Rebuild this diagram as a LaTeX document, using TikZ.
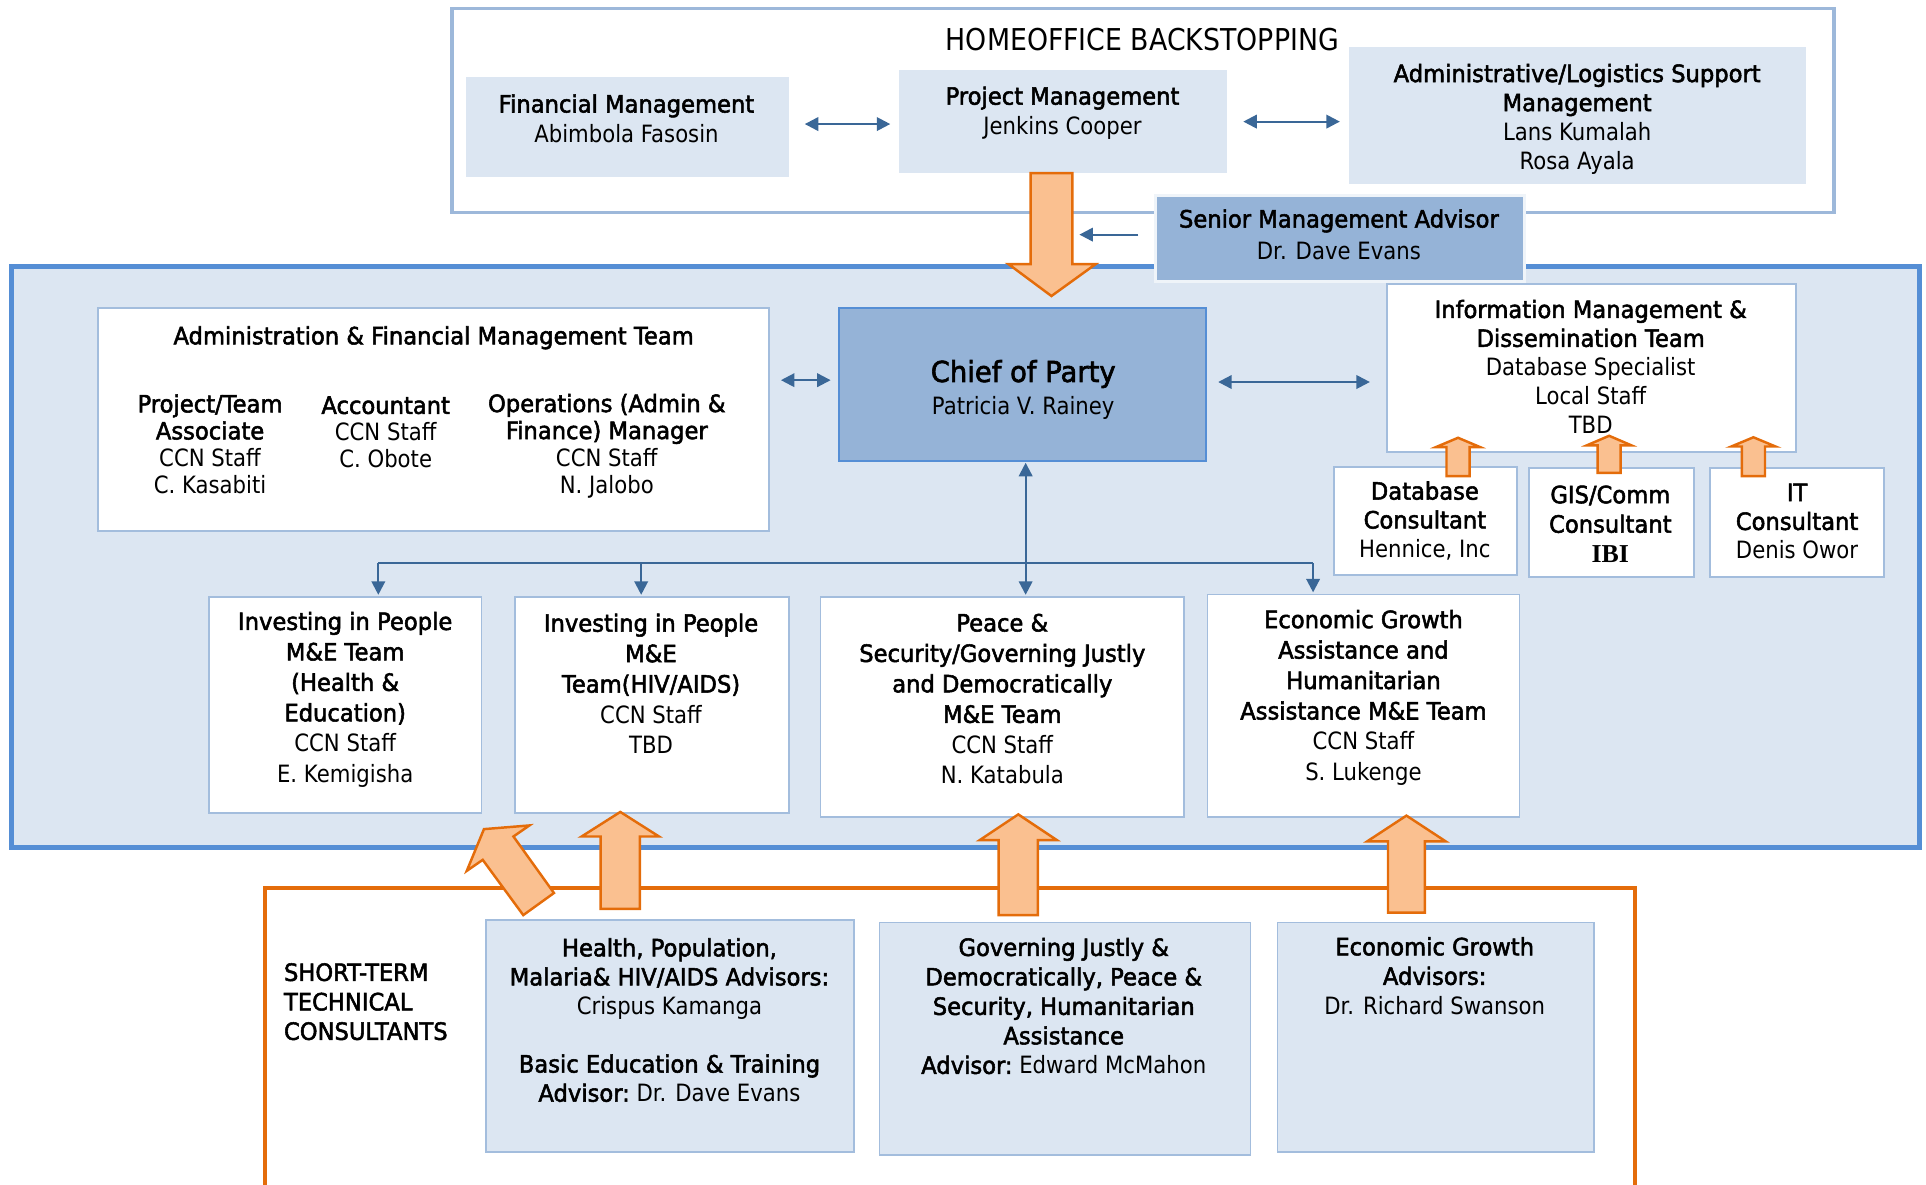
\documentclass[tikz,border=0pt]{standalone}
\usepackage{fontspec}
\setmainfont{DejaVu Sans}[FakeStretch=0.89]
\newfontfamily\tfont{DejaVu Sans}[FakeStretch=0.95,FakeBold=2.2]
\newfontfamily\ibifont{Liberation Serif}
\newcommand\tb[1]{{\tfont #1}}
\usetikzlibrary{arrows.meta,calc}
\definecolor{lightfill}{HTML}{DCE6F2}
\definecolor{medfill}{HTML}{95B3D7}
\definecolor{mainline}{HTML}{558ED5}
\definecolor{boxline}{HTML}{A3BDDD}
\definecolor{homeline}{HTML}{9DB8DA}
\definecolor{orline}{HTML}{E46C0A}
\definecolor{orfill}{HTML}{FAC090}
\definecolor{arrblue}{HTML}{3A6797}
\newcommand\fs{\fontsize{19.4}{24.3}\selectfont}
\newcommand\orup[6]{\draw[bigarr] ({#1-#5},#6) -- ({#1-#5},#3) -- ({#1-#4},#3) -- (#1,#2) -- ({#1+#4},#3) -- ({#1+#5},#3) -- ({#1+#5},#6) -- cycle;}
\tikzset{
  txt/.style={font=\fs, align=center, inner sep=0pt},
  coltxt/.style={font=\fontsize{19.4}{22}\selectfont, align=center, inner sep=0pt},
  teamtxt/.style={font=\fontsize{19.4}{24.8}\selectfont, align=center, inner sep=0pt},
  sizebox/.style 2 args={minimum width=#1, minimum height=#2, inner sep=0pt},
  homebox/.style={draw=homeline, line width=3pt},
  mainbox/.style={draw=mainline, line width=4pt, fill=lightfill},
  topbox/.style={fill=lightfill},
  whitebox/.style={draw=boxline, line width=1.5pt, fill=white},
  lightbox/.style={draw=boxline, line width=1.5pt, fill=lightfill},
  medbox/.style={draw=mainline, line width=1.5pt, fill=medfill},
  smabox/.style={draw=white!85!medfill, line width=2.5pt, fill=medfill},
  bigarr/.style={draw=orline, line width=2pt, fill=orfill, line join=miter},
  conn/.style={draw=arrblue, line width=1.8pt},
  arr/.style={conn, -{Triangle[length=11pt,width=11pt]}},
  biarr/.style={conn, {Triangle[length=11pt,width=11pt]}-{Triangle[length=11pt,width=11pt]}},
}
\begin{document}
\begin{tikzpicture}[x=1pt,y=-1pt]
\useasboundingbox (0,0) rectangle (1568,964);
% outer frames
\node[homebox, sizebox={1125pt}{166pt}] (home) at (930.5,90) {};
\node[mainbox, sizebox={1554pt}{473pt}] (main) at (786,453.5) {};
\draw[draw=orline, line width=3pt] (216,980) -- (216,723) -- (1331,723) -- (1331,980);
% home office boxes
\node[topbox, sizebox={263pt}{81pt}] (fin) at (510.5,103.5) {};
\node[topbox, sizebox={267pt}{84pt}] (proj) at (865.5,99) {};
\node[topbox, sizebox={372pt}{112pt}] (adm) at (1284,94) {};
% main boxes
\node[whitebox, sizebox={546pt}{181pt}] (aft) at (353,341.5) {};
\node[medbox, sizebox={299pt}{124pt}] (cop) at (832.5,313) {};
\node[whitebox, sizebox={333pt}{137pt}] (imd) at (1295.5,299.5) {};
\node[whitebox, sizebox={149pt}{88pt}] (dbc) at (1160.5,424) {};
\node[whitebox, sizebox={134pt}{89pt}] (gis) at (1312,425.5) {};
\node[whitebox, sizebox={142pt}{89pt}] (itc) at (1463,425.5) {};
\node[whitebox, sizebox={222pt}{176pt}] (t1) at (281,574) {};
\node[whitebox, sizebox={223pt}{176pt}] (t2) at (530.5,574) {};
\node[whitebox, sizebox={296pt}{179pt}] (t3) at (816,575.5) {};
\node[whitebox, sizebox={254pt}{181pt}] (t4) at (1110,574.5) {};
% bottom boxes
\node[lightbox, sizebox={299pt}{189pt}] (b1) at (545.5,843.5) {};
\node[lightbox, sizebox={302pt}{189pt}] (b2) at (867,845.5) {};
\node[lightbox, sizebox={258pt}{187pt}] (b3) at (1169,844.5) {};
% big orange arrows
\draw[bigarr] (839,141) -- (873,141) -- (873,215) -- (892,215) -- (856,241) -- (821,215) -- (839,215) -- cycle;
\orup{1187}{356.4}{364}{18}{9.4}{387.6}
\orup{1310}{354.8}{362.5}{18}{9.4}{385}
\orup{1427.5}{356}{363.5}{18}{9.4}{387.6}
\orup{505}{661}{681}{31.5}{16}{740}
\orup{829}{663}{684}{31.5}{16}{745}
\orup{1145}{664}{685}{32}{15}{743}
\draw[bigarr] (394,675) -- (431,672) -- (418,681) -- (451,727) -- (426,745) -- (393,700) -- (380,709) -- cycle;
% senior management advisor
\node[smabox, sizebox={300pt}{70pt}] (sma) at (1091,194) {};
% blue connectors
\draw[biarr] ($(fin.east)+(13,-2.5)$) -- ($(proj.west)+(-7,2)$);
\draw[biarr] ($(proj.east)+(13,0)$) -- ($(adm.west)+(-7,5)$);
\draw[arr] ($(sma.west)+(-13,-3)$) -- ($(sma.west)+(-61,-3)$);
\draw[biarr] ($(aft.east)+(9,-32)$) -- ($(cop.west)+(-6,-3.5)$);
\draw[biarr] ($(cop.east)+(9,-2)$) -- ($(imd.west)+(-13,11.5)$);
\draw[biarr] ($(cop.south)+(2.5,1)$) -- ($(cop.south |- t3.north)+(2.5,-1)$);
\coordinate (busL) at (308,458.5);
\coordinate (busM) at (522,458.5);
\coordinate (busR) at (1069,458.5);
\draw[conn] (busL) -- (busR);
\draw[arr] (busL) -- ($(busL |- t1.north)+(0,-1)$);
\draw[arr] (busM) -- ($(busM |- t2.north)+(0,-1)$);
\draw[arr] (busR) -- ($(busR |- t4.north)+(0,-1)$);
% texts
\node[txt, font=\fontsize{24.5}{29}\selectfont] (hotitle) at (930,32) {HOMEOFFICE BACKSTOPPING};
\node[txt] (fintx) at (510,96.5) {\tb{Financial Management}\\Abimbola Fasosin};
\node[txt] (projtx) at (865,92) {\tb{Project Management}\\Jenkins Cooper};
\node[txt, font=\fontsize{19.4}{23.7}\selectfont] (admtx) at (1284,97) {\tb{Administrative/Logistics Support}\\\tb{Management}\\Lans Kumalah\\Rosa Ayala};
\node[txt, font=\fontsize{19.4}{26}\selectfont] (smatx) at (1090,191) {\tb{Senior Management Advisor}\\Dr. Dave Evans};
\node[txt] (afttx) at (353,275) {\tb{Administration \& Financial Management Team}};
\node[coltxt] (col1) at (171,361.5) {\tb{Project/Team}\\\tb{Associate}\\CCN Staff\\C. Kasabiti};
\node[coltxt] (col2) at (314,352) {\tb{Accountant}\\CCN Staff\\C. Obote};
\node[coltxt] (col3) at (494,363) {\tb{Operations (Admin \&}\\\tb{Finance) Manager}\\CCN Staff\\N. Jalobo};
\node[txt, font=\fontsize{23.5}{28}\selectfont\tfont] (coptx1) at (833,304.5) {Chief of Party};
\node[txt] (coptx2) at (833,332) {Patricia V. Rainey};
\node[txt, font=\fontsize{19.4}{23.5}\selectfont] (imdtx) at (1295,298.5) {\tb{Information Management \&}\\\tb{Dissemination Team}\\Database Specialist\\Local Staff\\TBD};
\node[txt, font=\fontsize{19.4}{23.5}\selectfont] (dbctx) at (1160,424) {\tb{Database}\\\tb{Consultant}\\Hennice, Inc};
\node[txt, font=\fontsize{19.4}{24}\selectfont] (gistx) at (1311,426.5) {\tb{GIS/Comm}\\\tb{Consultant}\\{\ibifont\fontsize{21}{24}\selectfont\bfseries IBI}};
\node[txt, font=\fontsize{19.4}{23.5}\selectfont] (itctx) at (1463,424.5) {\tb{IT}\\\tb{Consultant}\\Denis Owor};
\node[teamtxt] (t1tx) at (281,569.5) {\tb{Investing in People}\\\tb{M\&E Team}\\\tb{(Health \&}\\\tb{Education)}\\CCN Staff\\E. Kemigisha};
\node[teamtxt] (t2tx) at (530,556.5) {\tb{Investing in People}\\\tb{M\&E}\\\tb{Team(HIV/AIDS)}\\CCN Staff\\TBD};
\node[teamtxt] (t3tx) at (816,569) {\tb{Peace \&}\\\tb{Security/Governing Justly}\\\tb{and Democratically}\\\tb{M\&E Team}\\CCN Staff\\N. Katabula};
\node[teamtxt] (t4tx) at (1110,568) {\tb{Economic Growth}\\\tb{Assistance and}\\\tb{Humanitarian}\\\tb{Assistance M\&E Team}\\CCN Staff\\S. Lukenge};
\node[txt, align=left, anchor=west, font=\fontsize{19.4}{24}\selectfont] (stctx) at (231,815.5) {\tb{SHORT-TERM}\\\tb{TECHNICAL}\\\tb{CONSULTANTS}};
\node[txt, font=\fontsize{19.4}{23.7}\selectfont] (b1tx) at (545,830.5) {\tb{Health, Population,}\\\tb{Malaria\& HIV/AIDS Advisors:}\\Crispus Kamanga\\[23.5pt]\tb{Basic Education \& Training}\\\tb{Advisor:}~Dr. Dave Evans};
\node[txt, font=\fontsize{19.4}{24}\selectfont] (b2tx) at (866,819) {\tb{Governing Justly \&}\\\tb{Democratically, Peace \&}\\\tb{Security, Humanitarian}\\\tb{Assistance}\\\tb{Advisor:}~Edward McMahon};
\node[txt, font=\fontsize{19.4}{24}\selectfont] (b3tx) at (1168,794.5) {\tb{Economic Growth}\\\tb{Advisors:}\\Dr. Richard Swanson};
\end{tikzpicture}
\end{document}
